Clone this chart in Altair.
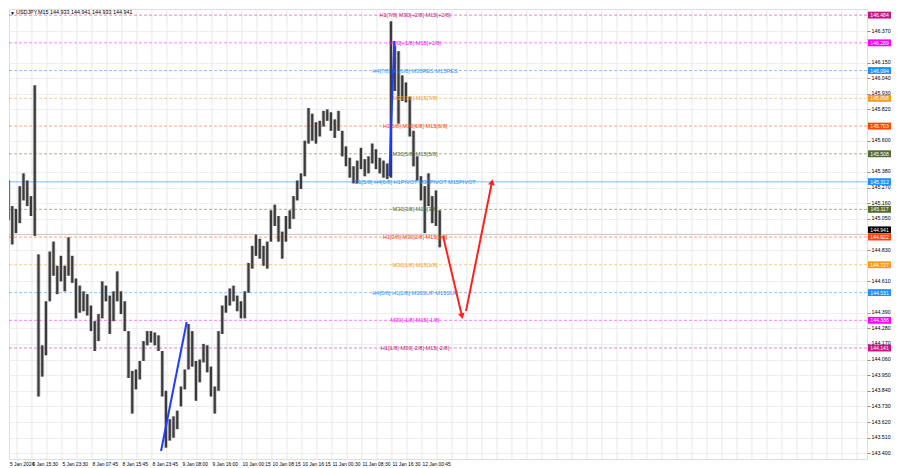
import json
import altair as alt
import pandas as pd

# ---------------- data ----------------
# M15 candles, one entry per 4 bars: high / low prices
hi = [144.79, 145.33, 145.32, 145.14, 145.12, 145.28, 145.37, 145.32, 145.21, 145.99,
      144.80, 144.16, 144.47, 144.82, 144.89, 144.72, 144.79, 144.72, 144.92, 144.79,
      144.63, 144.58, 144.54, 144.52, 144.44, 144.33, 144.38, 144.61, 144.58, 144.51,
      144.54, 144.68, 144.54, 144.47, 144.26, 143.98, 143.99, 144.05, 144.19, 144.26,
      144.26, 144.25, 144.23, 144.12, 143.84, 143.64, 143.66, 143.70, 143.87, 143.99,
      144.31, 144.26, 144.05, 144.06, 144.17, 144.16, 144.01, 143.87, 144.26, 144.44,
      144.51, 144.56, 144.58, 144.51, 144.47, 144.54, 144.74, 144.86, 144.94, 144.91,
      144.86, 144.89, 145.11, 145.15, 145.07, 144.96, 145.07, 145.11, 145.21, 145.32,
      145.37, 145.60, 145.83, 145.79, 145.73, 145.74, 145.81, 145.82, 145.80, 145.75,
      145.81, 145.67, 145.56, 145.48, 145.42, 145.46, 145.55, 145.47, 145.49, 145.58,
      145.54, 145.48, 145.46, 145.44, 146.44, 146.27, 146.23, 146.06, 146.01, 145.91,
      145.67, 145.49, 145.35, 145.28, 145.37, 145.21, 145.25, 145.11]
lo = [144.67, 144.74, 145.04, 144.87, 144.95, 145.02, 145.18, 145.14, 145.07, 144.93,
      143.80, 143.94, 144.09, 144.47, 144.65, 144.52, 144.61, 144.54, 144.65, 144.60,
      144.35, 144.39, 144.40, 144.37, 144.26, 144.12, 144.19, 144.35, 144.47, 144.24,
      144.33, 144.47, 144.38, 144.26, 143.93, 143.68, 143.85, 143.92, 144.05, 144.16,
      144.18, 144.16, 144.12, 143.80, 143.44, 143.49, 143.51, 143.57, 143.73, 143.85,
      143.99, 144.01, 143.77, 143.90, 144.04, 143.97, 143.80, 143.68, 143.84, 144.24,
      144.39, 144.44, 144.47, 144.40, 144.35, 144.35, 144.53, 144.70, 144.79, 144.77,
      144.72, 144.70, 144.89, 145.00, 144.89, 144.77, 144.89, 144.98, 145.05, 145.18,
      145.26, 145.35, 145.58, 145.60, 145.58, 145.63, 145.70, 145.74, 145.67, 145.62,
      145.67, 145.49, 145.42, 145.34, 145.30, 145.30, 145.40, 145.35, 145.37, 145.44,
      145.40, 145.37, 145.34, 145.33, 145.34, 145.95, 145.72, 145.88, 145.87, 145.63,
      145.42, 145.32, 145.18, 144.95, 145.14, 145.02, 145.00, 144.85]
bar = [4 * k for k in range(len(hi))]

# Murrey-math style levels
level_price = [146.484, 146.289, 146.094, 145.898, 145.703, 145.508, 145.312,
               145.117, 144.922, 144.727, 144.531, 144.336, 144.141]
level_box = ["146.484", "146.289", "146.094", "145.898", "145.703", "145.508", "145.312",
             "145.117", "144.922", "144.727", "144.531", "144.336", "144.141"]
level_name = ["H1[7/8] M30[+2/8] M15[+2/8]", "M30[+1/8] M15[+1/8]",
              "H4[7/8] H1[6/8] M30RES M15RES", "M30[7/8] M15[7/8]",
              "H1[5/8] M30[6/8] M15[6/8]", "M30[5/8] M15[5/8]",
              "D1[5/8] H4[6/8] H1PIVOT M30PIVOT M15PIVOT", "M30[3/8] M15[3/8]",
              "H1[3/8] M30[2/8] M15[2/8]", "M30[1/8] M15[1/8]",
              "H4[5/8] H1[2/8] M30SUP M15SUP", "M30[-1/8] M15[-1/8]",
              "H1[1/8] M30[-2/8] M15[-2/8]"]
level_group = ["pm2", "pm1", "g8", "g7", "g6", "g5", "piv", "g5", "g6", "g7", "g8", "pm1", "pm2"]

bid_price = [144.941]
bid_label = ["144.941"]
title_text = "USDJPY,M15  144.933 144.941 144.933 144.941"

# price-scale labels visible in the picture (the others sit under the level boxes)
y_ticks = [143.40, 143.51, 143.62, 143.73, 143.84, 143.95, 144.06, 144.17, 144.28, 144.39,
           144.61, 144.83, 145.05, 145.16, 145.27, 145.38,
           145.60, 145.82, 145.93, 146.04, 146.15, 146.37]
time_tick_bar = [9, 33, 65, 97, 129, 161, 193, 225, 257, 289, 321, 353, 385, 417, 449]
time_tick_label = ["5 Jan 2024", "5 Jan 15:30", "5 Jan 23:30", "8 Jan 07:45", "8 Jan 15:45",
                   "8 Jan 23:45", "9 Jan 08:00", "9 Jan 16:00", "10 Jan 00:15", "10 Jan 08:15",
                   "10 Jan 16:15", "11 Jan 00:30", "11 Jan 08:30", "11 Jan 16:30", "12 Jan 00:45"]

blue_bar = [170.7, 198.1, 414.2, 419.5]
blue_price = [143.416, 144.324, 145.351, 146.302]
blue_id = ["a", "a", "b", "b"]
red_bar = [471.5, 491.7, 496.0, 523.7]
red_price = [144.929, 144.366, 144.401, 145.309]
red_id = ["down", "down", "up", "up"]

# ---------------- styles ----------------
group_domain = ["pm2", "pm1", "g8", "g7", "g6", "g5", "piv"]
group_range = ["#c71585", "#ff00ff", "#1e90ff", "#f59a23", "#ff4500", "#556b2f", "#1e90ff"]
FONT = "Liberation Sans"
PW, PH = 858, 450
BOXX = 870.5
BOX = "M-1,-0.3L1,-0.3L1,0.3L-1,0.3Z"

xscale = alt.Scale(domain=[8.533, 923.73], nice=False, zero=False)
yscale = alt.Scale(domain=[143.360, 146.527], nice=False, zero=False)
cscale = alt.Scale(domain=group_domain, range=group_range)

candles = pd.DataFrame({"bar": bar, "hi": hi, "lo": lo})
levels = pd.DataFrame({"price": level_price, "box": level_box, "name": level_name,
                       "group": level_group})
bid = pd.DataFrame({"price": bid_price, "label": bid_label})
blue = pd.DataFrame({"bar": blue_bar, "price": blue_price, "id": blue_id})
red = pd.DataFrame({"bar": red_bar, "price": red_price, "id": red_id})
vgrid = pd.DataFrame({"bar": list(range(17, 924, 16))})

lbl_expr = ("indexof(%s, datum.value) >= 0 ? %s[indexof(%s, datum.value)] : ''"
            % (json.dumps(time_tick_bar), json.dumps(time_tick_label), json.dumps(time_tick_bar)))

x_axis = alt.Axis(values=time_tick_bar, labelExpr=lbl_expr, labelAlign="left", labelBaseline="top",
                  labelFontSize=4.9, labelColor="#000000", labelPadding=2, tickSize=0,
                  domain=False, grid=False, title=None, labelOverlap=False, labelBound=False,
                  labelFlush=False)
y_axis = alt.Axis(orient="right", values=y_ticks, format=".3f", labelFontSize=5.3,
                  labelColor="#000000", labelPadding=1, labelOffset=-1, tickSize=3,
                  tickColor="#8a8a8a", domain=False, grid=True, gridColor="#eeeeee", title=None,
                  labelOverlap=False, labelFlush=False)


def X(field):
    return alt.X(field, scale=xscale, axis=x_axis)


def Y(field):
    return alt.Y(field, scale=yscale, axis=y_axis)


grid_layer = alt.Chart(vgrid).mark_rule(color="#e8e8e8", strokeWidth=1).encode(x=X("bar:Q"))

halo = alt.Chart(candles).mark_rule(color="#a0a0a0", strokeWidth=3.9, opacity=0.6, clip=True).encode(
    x=X("bar:Q"), y=Y("lo:Q"), y2="hi:Q")
core = alt.Chart(candles).mark_rule(color="#3a3a3a", strokeWidth=2.2, clip=True).encode(
    x=X("bar:Q"), y=Y("lo:Q"), y2="hi:Q")

lvl_dash = alt.Chart(levels).transform_filter("datum.group != 'piv'").mark_rule(
    strokeDash=[3, 2], strokeWidth=1, opacity=0.5).encode(
    y=Y("price:Q"), color=alt.Color("group:N", scale=cscale, legend=None))
lvl_piv = alt.Chart(levels).transform_filter("datum.group == 'piv'").mark_rule(
    strokeWidth=1.5, opacity=0.4).encode(
    y=Y("price:Q"), color=alt.Color("group:N", scale=cscale, legend=None))
bid_line = alt.Chart(bid).mark_rule(color="#c4c4c4", strokeWidth=1).encode(y=Y("price:Q"))

lvl_text = alt.Chart(levels).mark_text(fontSize=5.6, align="center", baseline="middle", font=FONT).encode(
    x=alt.value(406), y=Y("price:Q"), text="name:N",
    color=alt.Color("group:N", scale=cscale, legend=None))

blue_lines = alt.Chart(blue).mark_line(color="#1f3cff", strokeWidth=2, clip=True).encode(
    x=X("bar:Q"), y=Y("price:Q"), detail="id:N")
red_lines = alt.Chart(red).mark_line(color="#ff2020", strokeWidth=2, clip=True).encode(
    x=X("bar:Q"), y=Y("price:Q"), detail="id:N")
head_down = alt.Chart(red).transform_filter("datum.id == 'down'").transform_window(
    rn="row_number()").transform_filter("datum.rn == 2").mark_point(
    shape="triangle-down", filled=True, size=45, angle=346, color="#ff2020", opacity=1).encode(
    x=X("bar:Q"), y=Y("price:Q"))
head_up = alt.Chart(red).transform_filter("datum.id == 'up'").transform_window(
    rn="row_number()").transform_filter("datum.rn == 2").mark_point(
    shape="triangle-up", filled=True, size=45, angle=11, color="#ff2020", opacity=1).encode(
    x=X("bar:Q"), y=Y("price:Q"))

box = alt.Chart(levels).mark_point(shape=BOX, filled=True, size=529, opacity=1).encode(
    x=alt.value(BOXX), y=Y("price:Q"),
    color=alt.Color("group:N", scale=cscale, legend=None))
box_text = alt.Chart(levels).mark_text(fontSize=5.1, color="white", align="center",
                                       baseline="middle", font=FONT).encode(
    x=alt.value(BOXX), y=Y("price:Q"), text="box:N")
bid_box = alt.Chart(bid).mark_point(shape=BOX, filled=True, size=529, opacity=1,
                                    color="#000000", yOffset=-4.5).encode(
    x=alt.value(BOXX), y=Y("price:Q"))
bid_text = alt.Chart(bid).mark_text(fontSize=5.1, color="white", align="center",
                                    baseline="middle", font=FONT, yOffset=-4.5).encode(
    x=alt.value(BOXX), y=Y("price:Q"), text="label:N")

title = alt.Chart(pd.DataFrame({"t": [title_text]})).mark_text(
    fontSize=5.4, align="left", baseline="top", color="#000000", font=FONT).encode(
    x=alt.value(7), y=alt.value(1), text="t:N")
tri = alt.Chart(pd.DataFrame({"t": ["\u25bc"]})).mark_text(
    fontSize=5, align="left", baseline="top", color="#000000", font=FONT).encode(
    x=alt.value(1), y=alt.value(1.5), text="t:N")

chart = alt.layer(
    halo, grid_layer, lvl_dash, lvl_piv, bid_line, core, lvl_text,
    blue_lines, red_lines, head_down, head_up,
    box, box_text, bid_box, bid_text, title, tri
).properties(width=PW, height=PH, padding=0).configure_view(
    stroke="#9a9a9a", strokeWidth=1
).configure(font=FONT, background="white")

chart.save("out.html", embed_options={"renderer": "svg", "actions": False})
